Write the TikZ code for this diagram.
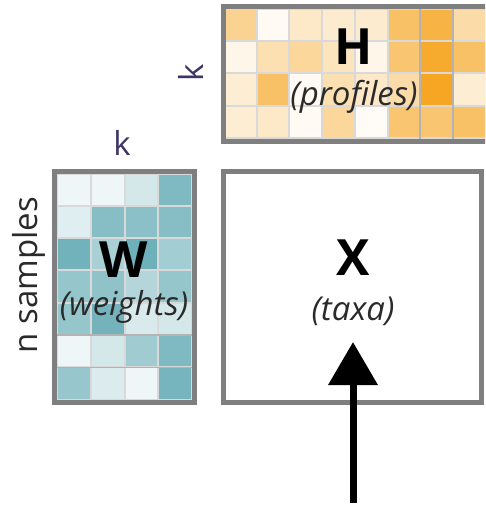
\documentclass[tikz,border=0pt]{standalone}
\usepackage{fontspec}
\setmainfont{Open Sans}
\usetikzlibrary{arrows.meta}

\definecolor{hcol}{HTML}{F6A623}
\definecolor{wcol}{HTML}{5FA8B2}
\definecolor{framegray}{HTML}{7F7F7F}
\definecolor{gridgray}{HTML}{D9D9D9}
\definecolor{markgray}{HTML}{B3B3B3}
\definecolor{klabel}{HTML}{3F3466}
\definecolor{textdark}{HTML}{2A2A2A}

\tikzset{
  matframe/.style={draw=framegray, line width=5pt},
  cell/.style={draw=gridgray, line width=2pt},
  cellmark/.style={draw=markgray, line width=1.5pt},
  bigletter/.style={font=\fontsize{50}{50}\selectfont\bfseries, anchor=base, inner sep=0pt},
  sublabel/.style={font=\fontsize{33}{33}\selectfont\itshape, text=textdark, anchor=base, inner sep=0pt},
  dimlabel/.style={font=\fontsize{33}{33}\selectfont, anchor=base, inner sep=0pt},
  bigarrow/.style={line width=7pt, -{Triangle[length=43pt,width=48pt]}},
}

\begin{document}
\begin{tikzpicture}[x=1pt,y=-1pt]
    \useasboundingbox (0,0) rectangle (485,508);
    \clip (0,0) rectangle (485,508);

    % H (profiles), cut at the right edge
    \fill[gridgray] (223,7) rectangle (492,141.5);
    \foreach \r/\vals in {0/{50,5,25,22,22,70,85,40},1/{10,35,45,30,10,65,95,70},2/{20,70,5,35,25,40,100,20},3/{20,25,5,45,3,65,65,70}}
        \foreach \v [count=\c from 0] in \vals
            \filldraw[cell, fill=hcol!\v!white] (224+32.7*\c,9+32.25*\r) rectangle +(32.7,32.25);
    \draw[cellmark] (420.2,8) rectangle (452.9,140);
    \draw[matframe] (223,6.5) rectangle (492,141.5);

    % W (weights)
    \fill[gridgray] (54.5,171) rectangle (194.5,402.5);
    \foreach \r/\vals in {0/{10,10,27,80},1/{20,75,72,75},2/{88,54,90,58},3/{66,70,47,66},4/{66,87,24,27},5/{10,27,60,80},6/{65,22,10,85}}
        \foreach \v [count=\c from 0] in \vals
            \filldraw[cell, fill=wcol!\v!white] (57+33.8*\c,173.5+32.3*\r) rectangle +(33.8,32.3);
    \draw[cellmark] (56,335) rectangle (193,367.3);
    \draw[matframe] (54.5,171) rectangle (194.5,402.5);

    % X (taxa)
    \draw[matframe] (223,171.5) rectangle (481,402.5);

    \node[bigletter] (hname) at (354,65) {H};
    \node[sublabel] (hsub) at (354,106) {(profiles)};
    \node[bigletter] (wname) at (124,277) {W};
    \node[sublabel] (wsub) at (124,315) {(weights)};
    \node[bigletter] (xname) at (353,275) {X};
    \node[sublabel] (xsub) at (353,320) {(taxa)};

    \node[dimlabel, text=klabel] (kw) at (122,155) {k};
    \node[dimlabel, text=klabel, rotate=90] (kh) at (203,73) {k};
    \node[dimlabel, text=textdark, rotate=90] (nsamples) at (37,275) {n samples};

    \coordinate (arrowfoot) at (353,503);
    \coordinate (arrowtip) at (353,342);
    \draw[bigarrow] (arrowfoot) -- (arrowtip);
\end{tikzpicture}
\end{document}
